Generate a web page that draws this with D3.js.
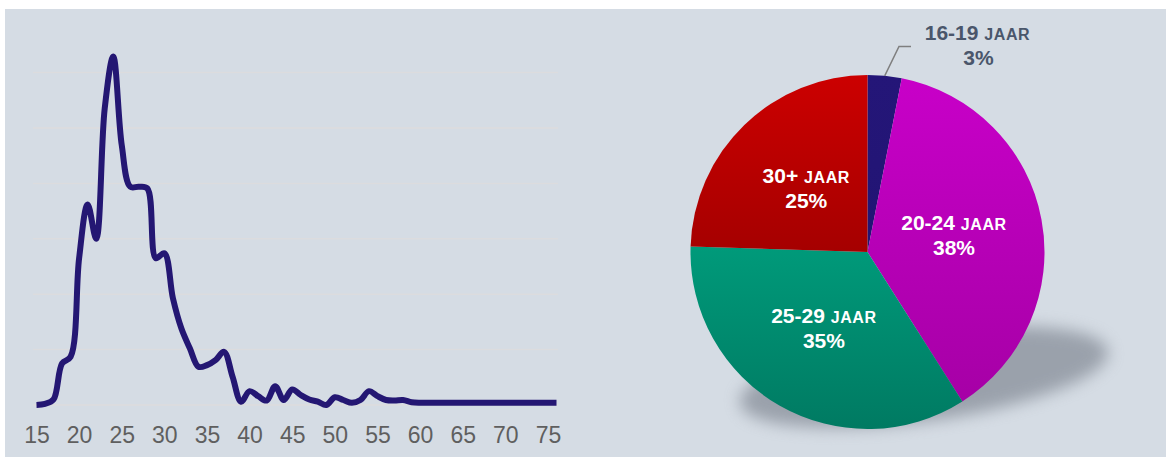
<!DOCTYPE html>
<html>
<head>
<meta charset="utf-8">
<script src="https://cdn.jsdelivr.net/npm/d3@7"></script>
<style>
  html, body { margin: 0; padding: 0; background: #ffffff; }
  svg { display: block; }
  text { font-family: "Liberation Sans", Arial, sans-serif; }
</style>
</head>
<body>
<svg id="chart" width="1166" height="457"></svg>
<script>
// ---------------- DATA ----------------
const ages = d3.range(15, 77); // 15 .. 76
const ageValues = [
  0, 0.2, 1.0, 7.5, 8.7,            // 15-19
  26.5, 36.2, 30.0, 53.5, 62.9,     // 20-24
  46.9, 39.4, 39.4, 39.1, 26.5,     // 25-29
  27.4, 19.3, 13.8, 10.2, 6.9,      // 30-34
  7.2, 8.1, 9.6, 5.1, 0.6,          // 35-39
  2.5, 1.6, 0.8, 3.4, 0.9,          // 40-44
  2.8, 1.8, 1.0, 0.6, 0,            // 45-49
  1.4, 0.9, 0.4, 0.9, 2.5,          // 50-54
  1.6, 0.9, 0.8, 0.9, 0.5,          // 55-59
  0.4, 0.4, 0.4, 0.4, 0.4,          // 60-64
  0.4, 0.4, 0.4, 0.4, 0.4,          // 65-69
  0.4, 0.4, 0.4, 0.4, 0.4,          // 70-74
  0.4, 0.4                          // 75-76
];
const xTickLabels = [15, 20, 25, 30, 35, 40, 45, 50, 55, 60, 65, 70, 75];
const yGridValues = [0, 10, 20, 30, 40, 50, 60];

const groupNames = ["16-19", "20-24", "25-29", "30+"];
const groupShares = [3.1, 37.9, 34.5, 24.5];
const groupLabels = ["3%", "38%", "35%", "25%"];
const groupUnit = "JAAR";

// ---------------- SETUP ----------------
const svg = d3.select("#chart");
const W = 1166, H = 457;

svg.append("rect").attr("x", 5).attr("y", 9).attr("width", W - 5).attr("height", H - 9)
  .attr("fill", "#D5DCE4");

const defs = svg.append("defs");

// ---------------- LINE CHART ----------------
const x = d3.scaleLinear().domain([15, 76]).range([36.5, 556.5]);
const y = d3.scaleLinear().domain([0, 60]).range([405, 72.6]);

const grid = svg.append("g");
grid.selectAll("line").data(yGridValues).join("line")
  .attr("x1", 33).attr("x2", 558)
  .attr("y1", d => y(d)).attr("y2", d => y(d))
  .attr("stroke", "#DCDCDE").attr("stroke-width", 1.5);

const xAxis = d3.axisBottom(x).tickValues(xTickLabels).tickSize(0).tickPadding(21.5)
  .tickFormat(d3.format("d"));
const gx = svg.append("g").attr("transform", `translate(0,${y(0)})`).call(xAxis);
gx.select(".domain").remove();
gx.selectAll("text")
  .attr("fill", "#5f5f5f")
  .style("font-size", "23px")
  .style("font-family", "'Liberation Sans', Arial, sans-serif");

const line = d3.line()
  .x((d, i) => x(ages[i]))
  .y(d => y(d))
  .curve(d3.curveCatmullRom.alpha(0.5));

svg.append("path")
  .datum(ageValues)
  .attr("d", line)
  .attr("fill", "none")
  .attr("stroke", "#241773")
  .attr("stroke-width", 6)
  .attr("stroke-linejoin", "round");

// ---------------- PIE ----------------
const cx = 867.5, cy = 252, R = 177;

// shadow
const blur = defs.append("filter").attr("id", "shadowBlur")
  .attr("x", "-30%").attr("y", "-60%").attr("width", "160%").attr("height", "220%");
blur.append("feGaussianBlur").attr("stdDeviation", 8);
svg.append("ellipse")
  .attr("cx", 924).attr("cy", 377).attr("rx", 186).attr("ry", 44)
  .attr("transform", "rotate(-8 924 377)")
  .attr("fill", "#737a86").attr("opacity", 0.6)
  .attr("filter", "url(#shadowBlur)");

const gradColors = [
  ["#241678", "#221474"],
  ["#C800C8", "#A600A6"],
  ["#009A7A", "#007A62"],
  ["#CC0000", "#A50000"]
];
gradColors.forEach((c, i) => {
  const g = defs.append("linearGradient").attr("id", "grad" + i)
    .attr("x1", 0).attr("y1", 0).attr("x2", 0).attr("y2", 1);
  g.append("stop").attr("offset", "0%").attr("stop-color", c[0]);
  g.append("stop").attr("offset", "100%").attr("stop-color", c[1]);
});

const pie = d3.pie().sort(null).value(d => d).startAngle(0).endAngle(2 * Math.PI);
const arcs = pie(groupShares);
const arc = d3.arc().innerRadius(0).outerRadius(R);
const labelArc = d3.arc().innerRadius(88).outerRadius(88);

const pg = svg.append("g").attr("transform", `translate(${cx},${cy})`);
pg.selectAll("path").data(arcs).join("path")
  .attr("d", arc)
  .attr("fill", (d, i) => `url(#grad${i})`);

// inner labels (slices 1..3)
arcs.forEach((a, i) => {
  if (i === 0) return;
  const [lx, ly] = labelArc.centroid(a);
  const t1 = pg.append("text").attr("x", lx).attr("y", ly - 5.5)
    .attr("text-anchor", "middle").attr("fill", "#ffffff").attr("font-weight", "bold");
  t1.append("tspan").style("font-size", "21px").text(groupNames[i] + " ");
  t1.append("tspan").style("font-size", "16px").attr("letter-spacing", "0.6").text(groupUnit);
  pg.append("text").attr("x", lx).attr("y", ly + 19.5)
    .attr("text-anchor", "middle").attr("fill", "#ffffff").attr("font-weight", "bold")
    .style("font-size", "21px").text(groupLabels[i]);
});

// outside label for small slice
{
  const a = arcs[0];
  const mid = (a.startAngle + a.endAngle) / 2;
  const sx = Math.sin(mid) * R, sy = -Math.cos(mid) * R;
  const ex = 31.5, ey = -205.5;
  pg.append("polyline")
    .attr("points", `${sx},${sy} ${ex},${ey} ${ex + 12},${ey}`)
    .attr("fill", "none").attr("stroke", "#7f7f7f").attr("stroke-width", 1.5);
  const col = "#4A566B";
  const t1 = pg.append("text").attr("x", 110).attr("y", 40 - cy)
    .attr("text-anchor", "middle").attr("fill", col).attr("font-weight", "bold");
  t1.append("tspan").style("font-size", "21px").text(groupNames[0] + " ");
  t1.append("tspan").style("font-size", "16px").attr("letter-spacing", "0.6").text(groupUnit);
  pg.append("text").attr("x", 111).attr("y", 65 - cy)
    .attr("text-anchor", "middle").attr("fill", col).attr("font-weight", "bold")
    .style("font-size", "21px").text(groupLabels[0]);
}
</script>
</body>
</html>
